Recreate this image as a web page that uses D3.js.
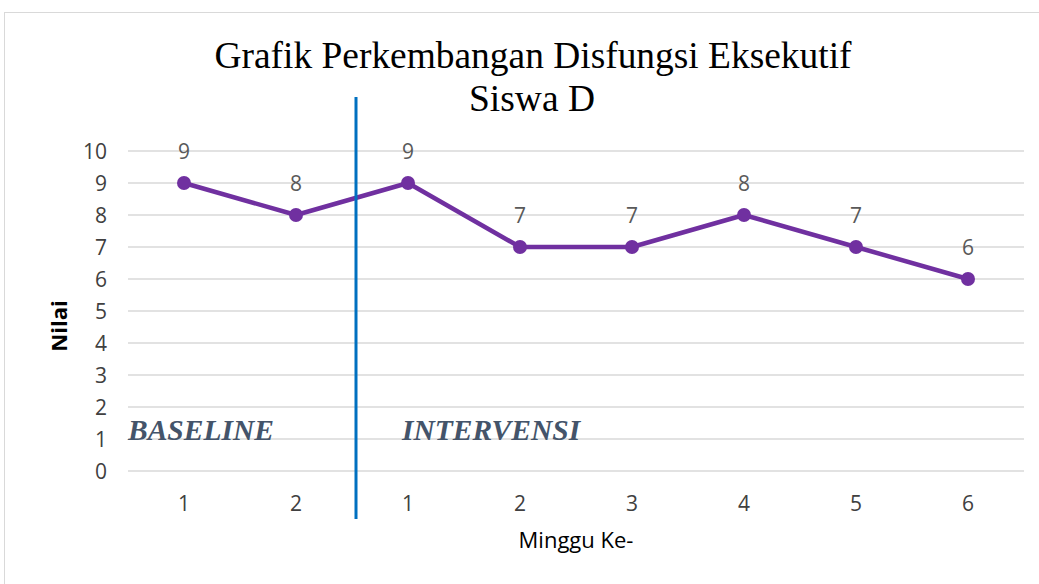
<!DOCTYPE html>
<html>
  <head>
    <meta http-equiv="Content-Type" content="text/html;charset=utf-8"/>
    <script src="https://d3js.org/d3.v7.min.js"></script>
    <style type="text/css">
    body { margin: 0; background: #fff; }
    .grid-line { stroke: #d9d9d9; stroke-width: 1.3px; }
    .tick-label { font-family: "Open Sans", Calibri, sans-serif; font-size: 21px; fill: #404040; }
    </style>
  </head>
  <body>
    <script type="text/javascript">
      // data
      var weeks = ["1", "2", "1", "2", "3", "4", "5", "6"];
      var scores = [9, 8, 9, 7, 7, 8, 7, 6];
      var yTicks = [0, 1, 2, 3, 4, 5, 6, 7, 8, 9, 10];
      var phases = ["BASELINE", "INTERVENSI"];

      var width = 1039;
      var height = 584;
      var plotLeft = 128, plotRight = 1024, plotTop = 151, plotBottom = 471;

      var svg = d3.select("body")
        .append("svg")
          .attr("width", width)
          .attr("height", height);

      // chart frame
      svg.append("rect")
        .attr("x", 4.5).attr("y", 12.5)
        .attr("width", 1060).attr("height", 600)
        .attr("fill", "#fff")
        .attr("stroke", "#d9d9d9")
        .attr("stroke-width", 1);

      var x = d3.scaleBand()
        .domain(d3.range(weeks.length))
        .range([plotLeft, plotRight]);

      var y = d3.scaleLinear()
        .domain([0, 10])
        .range([plotBottom, plotTop]);

      // grid lines
      svg.append("g")
        .selectAll("line")
        .data(yTicks)
        .join("line")
          .classed("grid-line", true)
          .attr("x1", plotLeft).attr("x2", plotRight)
          .attr("y1", function(d) { return y(d); })
          .attr("y2", function(d) { return y(d); });

      // y axis
      var yAxis = d3.axisLeft(y).tickValues(yTicks).tickSize(0).tickPadding(0);
      svg.append("g")
          .attr("transform", "translate(107,0)")
          .call(yAxis)
          .call(function(g) { g.select(".domain").remove(); })
          .selectAll("text")
            .attr("class", "tick-label")
            .attr("dy", "0.36em");

      // x axis
      var xAxis = d3.axisBottom(x)
        .tickSize(0)
        .tickFormat(function(i) { return weeks[i]; });
      svg.append("g")
          .attr("transform", "translate(0,511)")
          .call(xAxis)
          .call(function(g) { g.select(".domain").remove(); })
          .selectAll("text")
            .attr("class", "tick-label")
            .attr("y", 0)
            .attr("dy", 0);

      // phase labels
      svg.append("g")
        .selectAll("text")
        .data(phases)
        .join("text")
          .attr("x", function(d, i) { return i === 0 ? x(0) : x(2) + 50; })
          .attr("y", 440)
          .attr("font-family", "'Liberation Serif', 'Times New Roman', serif")
          .attr("font-weight", "bold")
          .attr("font-style", "italic")
          .attr("font-size", 29.5)
          .attr("fill", "#44546a")
          .text(function(d) { return d; });

      // line
      var line = d3.line()
        .x(function(d, i) { return x(i) + x.bandwidth() / 2; })
        .y(function(d) { return y(d); });

      svg.append("path")
        .datum(scores)
        .attr("d", line)
        .attr("fill", "none")
        .attr("stroke", "#7030a0")
        .attr("stroke-width", 4.5)
        .attr("stroke-linejoin", "round");

      svg.append("g")
        .selectAll("circle")
        .data(scores)
        .join("circle")
          .attr("cx", function(d, i) { return x(i) + x.bandwidth() / 2; })
          .attr("cy", function(d) { return y(d); })
          .attr("r", 7)
          .attr("fill", "#7030a0");

      // data labels
      svg.append("g")
        .selectAll("text")
        .data(scores)
        .join("text")
          .attr("x", function(d, i) { return x(i) + x.bandwidth() / 2; })
          .attr("y", function(d) { return y(d) - 24; })
          .attr("text-anchor", "middle")
          .attr("font-family", "'Open Sans', Calibri, sans-serif")
          .attr("font-size", 21)
          .attr("fill", "#595959")
          .text(function(d) { return d; });

      // phase divider
      var divX = x(2) + 4;
      svg.append("line")
        .attr("x1", divX).attr("x2", divX)
        .attr("y1", 97).attr("y2", 519)
        .attr("stroke", "#0070c0")
        .attr("stroke-width", 3);

      // title
      var title = svg.append("g")
        .attr("font-family", "'Liberation Serif', 'Times New Roman', serif")
        .attr("font-size", 37)
        .attr("fill", "#000")
        .attr("text-anchor", "middle");
      title.append("text")
        .attr("x", 533).attr("y", 68)
        .attr("textLength", 637)
        .attr("lengthAdjust", "spacingAndGlyphs")
        .text("Grafik Perkembangan Disfungsi Eksekutif");
      title.append("text")
        .attr("x", 532).attr("y", 111)
        .attr("textLength", 126)
        .attr("lengthAdjust", "spacingAndGlyphs")
        .text("Siswa D");

      // axis titles
      svg.append("text")
        .attr("x", 576).attr("y", 548)
        .attr("text-anchor", "middle")
        .attr("font-family", "'Open Sans', Calibri, sans-serif")
        .attr("font-size", 22)
        .attr("fill", "#000")
        .text("Minggu Ke-");

      svg.append("text")
        .attr("transform", "translate(67,326) rotate(-90)")
        .attr("text-anchor", "middle")
        .attr("font-family", "'Open Sans', Calibri, sans-serif")
        .attr("font-size", 22)
        .attr("font-weight", "bold")
        .attr("fill", "#000")
        .text("Nilai");
    </script>
  </body>
</html>
